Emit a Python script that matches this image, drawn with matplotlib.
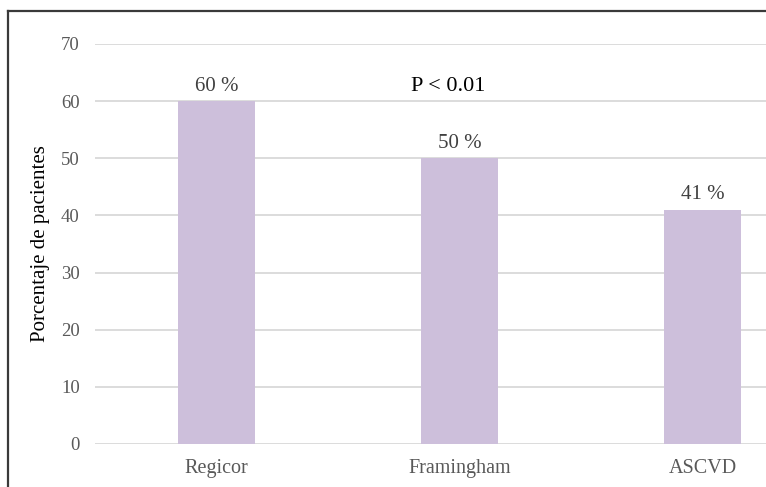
import matplotlib
matplotlib.use("Agg")
import matplotlib.pyplot as plt
from matplotlib.lines import Line2D

categories = ["Regicor", "Framingham", "ASCVD"]
values = [60, 50, 41]
value_labels = ["60 %", "50 %", "41 %"]
yticks = [0, 10, 20, 30, 40, 50, 60, 70]

plt.rcParams["font.family"] = ["Liberation Serif", "DejaVu Serif"]

W, H = 766, 487
fig = plt.figure(figsize=(W / 100, H / 100), dpi=100)
fig.patch.set_facecolor("white")

# axes region (plot area runs past the right edge of the figure)
left, right, bottom, top = 95, 824, 43, 443
ax = fig.add_axes([left / W, bottom / H, (right - left) / W, (top - bottom) / H])
ax.set_facecolor("none")

x = range(len(categories))
ax.bar(x, values, width=0.316, color="#CDBFDB", zorder=2)

ax.set_xlim(-0.5, len(categories) - 0.5)
ax.set_ylim(0, 70)
ax.set_yticks(yticks)
ax.set_xticks(list(x))
ax.set_xticklabels(categories, fontsize=14.5)
ax.tick_params(axis="both", length=0, colors="#595959")
ax.tick_params(axis="y", pad=11, labelsize=13.5)
ax.tick_params(axis="x", pad=11)

ax.grid(axis="y", color="#D9D9D9", linewidth=1.3, zorder=0)
ax.set_axisbelow(True)
for s in ax.spines.values():
    s.set_visible(False)

for xi, v, lab in zip(x, values, value_labels):
    ax.annotate(lab, (xi, v), xytext=(0, 4), textcoords="offset points",
                ha="center", va="bottom", fontsize=15, color="#404040")

ax.text(0.955, 62.5, "P < 0.01", ha="center", va="center", fontsize=16,
        color="black")

ax.set_ylabel("Porcentaje de pacientes", fontsize=15, color="black", labelpad=8)

# outer chart frame (top and left edges)
fx, fy = 7.5 / W, 1 - 10.5 / H
fig.add_artist(Line2D([fx, fx], [0, fy], transform=fig.transFigure,
                      color="#3a3a3a", linewidth=1.6))
fig.add_artist(Line2D([fx, 1], [fy, fy], transform=fig.transFigure,
                      color="#3a3a3a", linewidth=1.6))

fig.savefig("out.png", dpi=100)
